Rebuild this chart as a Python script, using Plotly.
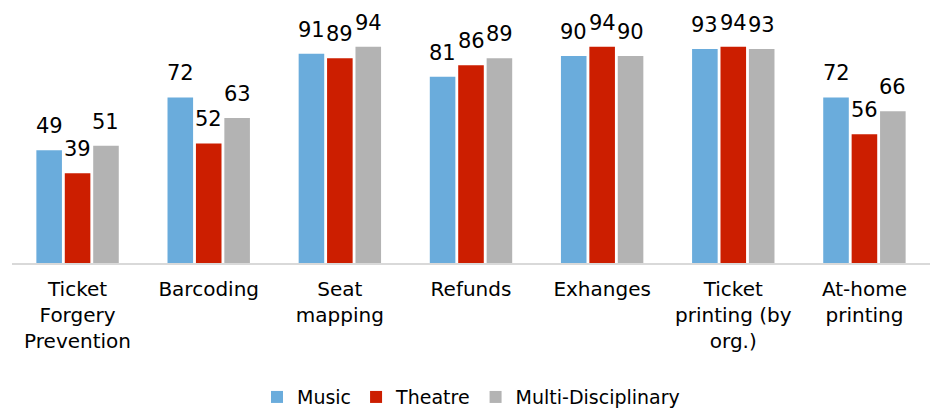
import plotly.graph_objects as go

categories = ["Ticket<br>Forgery<br>Prevention", "Barcoding", "Seat<br>mapping", "Refunds",
              "Exhanges", "Ticket<br>printing (by<br>org.)", "At-home<br>printing"]
series_names = ["Music", "Theatre", "Multi-Disciplinary"]
music = [49, 72, 91, 81, 90, 93, 72]
theatre = [39, 52, 89, 86, 94, 94, 56]
multi = [51, 63, 94, 89, 90, 93, 66]
colors = ["#6aacdc", "#cc1e00", "#b3b3b3"]

FONT = "DejaVu Sans"
fig = go.Figure()
all_vals = [music, theatre, multi]
for name, vals, col in zip(series_names, all_vals, colors):
    fig.add_trace(go.Bar(x=categories, y=vals, name=name, marker_color=col,
                         marker_line_width=0))

# value labels as annotations offset per series slot
cat_px = (930 - 12) / len(categories)
bargap = 0.35
slot = cat_px * (1 - bargap) / 3
shifts = [-slot, 0, slot]
for vals, sh in zip(all_vals, shifts):
    for c, v in zip(categories, vals):
        fig.add_annotation(x=c, y=v, text=str(v), showarrow=False, xref="x", yref="y",
                           yanchor="bottom", xshift=sh, yshift=10,
                           font=dict(family=FONT, size=21, color="#000000"))

fig.update_layout(
    width=930, height=411,
    margin=dict(l=12, r=0, t=10, b=148, autoexpand=False),
    barmode="group", bargap=bargap, bargroupgap=0.1,
    plot_bgcolor="white", paper_bgcolor="white",
    font=dict(family=FONT, color="#000000"),
    legend=dict(orientation="h", x=0.5, xanchor="center", y=-0.53, yanchor="middle",
                font=dict(family=FONT, size=19, color="#000000"), traceorder="normal"),
    showlegend=True,
)
fig.update_xaxes(showline=True, linecolor="#d9d9d9", linewidth=2, ticks="",
                 ticklabelstandoff=7, automargin=False,
                 tickfont=dict(family=FONT, size=20, color="#000000"), showgrid=False)
fig.update_yaxes(range=[0, 110], visible=False, showgrid=False)

fig.write_html("out.html", config={"displayModeBar": False},
               post_script="document.body.style.margin='0';")
